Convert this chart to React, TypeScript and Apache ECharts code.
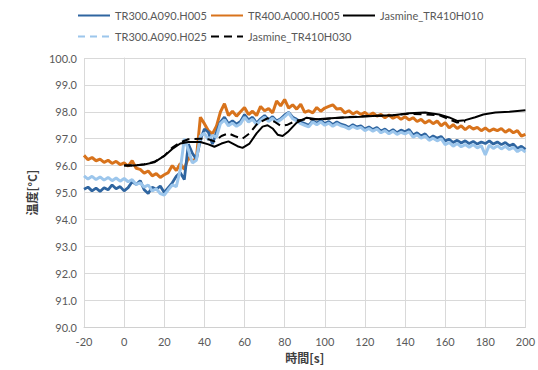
import React, { useEffect, useRef } from "react";
import * as echarts from "echarts";

const T_START = -20;
const T_STEP = 2;

const tr300h005 = [
  95.12, 95.2, 95.06, 95.16, 95.04, 95.18, 95.1, 95.28, 95.14, 95.22,
  95.06, 95.18, 95.4, 95.3, 95.44, 95.1, 94.96, 95.2, 95.12, 95.24,
  95.0, 95.18, 95.36, 95.6, 95.74, 95.48, 96.8, 96.46, 96.24, 96.96,
  97.36, 97.24, 96.8, 97.24, 97.62, 97.8, 97.56, 97.66, 97.54, 97.64,
  97.9, 97.7, 97.8, 97.58, 97.74, 97.86, 97.7, 97.82, 97.66, 97.74,
  97.88, 97.98, 97.8, 97.72, 97.62, 97.56, 97.5, 97.66, 97.58, 97.68,
  97.56, 97.64, 97.52, 97.62, 97.54, 97.5, 97.42, 97.52, 97.44, 97.48,
  97.36, 97.44, 97.34, 97.42, 97.28, 97.36, 97.24, 97.34, 97.22, 97.32,
  97.26, 97.34, 97.14, 97.22, 97.1, 97.18, 97.0, 97.1, 97.02, 97.08,
  96.92, 96.98, 96.86, 96.94, 96.84, 96.92, 96.82, 96.9, 96.8, 96.88,
  96.82, 96.92, 96.8, 96.88, 96.78, 96.86, 96.74, 96.8, 96.64, 96.72,
  96.6,
];

const tr400h005 = [
  96.38, 96.22, 96.3, 96.18, 96.24, 96.12, 96.2, 96.08, 96.16, 96.04,
  96.1, 95.98, 96.18, 95.9, 95.86, 95.72, 95.8, 95.62, 95.7, 95.56,
  95.66, 95.74, 96.0, 95.82, 96.08, 95.86, 96.3, 96.18, 96.26, 97.8,
  97.56, 97.3, 97.18, 97.46, 98.0, 98.3, 97.86, 98.02, 97.84, 98.0,
  98.16, 97.9, 98.02, 97.86, 98.2, 98.04, 98.12, 97.96, 98.4, 98.22,
  98.46, 98.14, 98.26, 98.1, 98.28, 97.98, 98.04, 97.96, 98.16, 98.02,
  98.14, 98.2, 98.26, 98.1, 98.12, 97.96, 98.04, 97.92, 98.0, 97.9,
  97.98, 97.86, 97.96, 97.84, 97.9, 97.78, 97.88, 97.76, 97.84, 97.72,
  97.82, 97.7, 97.78, 97.64, 97.72, 97.58, 97.68, 97.56, 97.66, 97.48,
  97.6, 97.4, 97.52, 97.38, 97.48, 97.34, 97.46, 97.36, 97.42, 97.3,
  97.4, 97.28, 97.36, 97.3, 97.38, 97.24, 97.34, 97.22, 97.3, 97.1,
  97.16,
];

const tr300h025 = [
  95.62, 95.5, 95.6, 95.48, 95.58, 95.46, 95.56, 95.44, 95.54, 95.42,
  95.52, 95.4, 95.48, 95.3, 95.36, 95.2, 95.28, 95.06, 95.14, 94.96,
  94.9, 95.1, 95.28, 95.22, 95.86, 97.0, 96.6, 96.1, 96.2, 97.1,
  97.2, 96.96, 97.12, 97.06, 97.56, 97.7, 97.48, 97.58, 97.46, 97.56,
  97.8, 97.62, 97.72, 97.52, 97.68, 97.8, 97.64, 97.76, 97.6, 97.7,
  97.82, 97.96, 97.74, 97.66, 97.56, 97.5, 97.44, 97.62, 97.52, 97.62,
  97.5, 97.58, 97.46, 97.56, 97.48, 97.44, 97.36, 97.46, 97.38, 97.42,
  97.3, 97.38, 97.28, 97.36, 97.22, 97.3, 97.18, 97.28, 97.16, 97.24,
  97.18, 97.26, 97.06, 97.14, 97.02, 97.1, 96.94, 97.02, 96.92, 97.0,
  96.78, 96.86, 96.72, 96.82, 96.7, 96.78, 96.68, 96.78, 96.66, 96.74,
  96.4, 96.76, 96.64, 96.74, 96.62, 96.72, 96.6, 96.68, 96.52, 96.62,
  96.5,
];

const jasH010Time = [
  0, 5, 10, 15, 20, 24, 28, 32, 38, 42, 45, 48.5, 52, 56.5, 59, 62.5, 66,
  69, 71.5, 74, 76.5, 79, 82, 86, 91, 96, 101, 109, 118, 126, 134, 142,
  150, 157, 162, 166, 170, 175, 179, 185, 192, 200,
];
const jasH010 = [
  96.0, 96.0, 96.04, 96.12, 96.36, 96.62, 96.82, 96.88, 96.88, 96.79,
  96.7, 96.82, 96.9, 96.72, 96.66, 96.82, 97.2, 97.45, 97.5, 97.38,
  97.15, 97.1, 97.28, 97.6, 97.78, 97.72, 97.75, 97.79, 97.82, 97.85,
  97.87, 97.95, 97.97, 97.9, 97.79, 97.66, 97.69, 97.8, 97.9, 97.97,
  98.0, 98.06,
];

const jasH030Time = [
  0, 5, 10, 15, 20, 24, 28, 32, 38, 42, 45, 48.5, 52, 55, 59, 62.5, 66.5,
  71.5, 75, 78, 81.5, 86, 91, 98, 109, 118, 126, 134, 142, 150, 157, 162,
  166, 170,
];
const jasH030 = [
  96.0, 96.0, 96.05, 96.14, 96.36, 96.67, 96.86, 96.98, 97.0, 96.98,
  96.9, 97.1, 97.2, 97.1, 97.0, 97.2, 97.57, 97.76, 97.63, 97.48,
  97.52, 97.68, 97.72, 97.72, 97.79, 97.83, 97.85, 97.87, 97.93, 97.9,
  97.87, 97.72, 97.6, 97.64,
];

const xTicks = { min: -20, max: 200, interval: 20 };
const yTicks = { min: 90, max: 100, interval: 1 };

const NAMES = [
  "TR300.A090.H005",
  "TR400.A000.H005",
  "Jasmine_TR410H010",
  "TR300.A090.H025",
  "Jasmine_TR410H030",
];

const COLORS = ["#2f65a0", "#d8731c", "#000000", "#9cc6ec", "#000000"];

function regular(values: number[]) {
  return values.map((v, i) => [T_START + i * T_STEP, v]);
}
function paired(times: number[], values: number[]) {
  return times.map((t, i) => [t, values[i]]);
}

export default function App() {
  const ref = useRef<HTMLDivElement>(null);
  useEffect(() => {
    if (!ref.current) return;
    const chart = echarts.init(ref.current, undefined, { renderer: "svg" });
    const font = "Lato, 'Open Sans', sans-serif";
    const txt = { color: "#595959", fontSize: 11, fontFamily: font };
    const legendBase = {
      itemWidth: 32,
      itemHeight: 10,
      itemGap: 10,
      itemStyle: { opacity: 0 },
      textStyle: { ...txt, fontSize: 11 },
    };
    const legendSlots = [
      { left: 72, top: 5, item: NAMES[0] as any },
      { left: 205, top: 5, item: NAMES[1] as any },
      { left: 337, top: 5, item: NAMES[2] as any },
      { left: 72, top: 26, item: { name: NAMES[3], lineStyle: { type: [7, 5] } } as any },
      { left: 205, top: 26, item: NAMES[4] as any },
    ];
    chart.setOption({
      animation: false,
      backgroundColor: "#ffffff",
      legend: legendSlots.map((s) => ({
        ...legendBase,
        left: s.left,
        top: s.top,
        data: [s.item],
      })),
      grid: { left: 84, right: 9, top: 58, bottom: 43 },
      xAxis: {
        type: "value",
        ...xTicks,
        name: "時間[s]",
        nameLocation: "middle",
        nameGap: 24,
        nameTextStyle: {
          color: "#404040",
          fontSize: 12,
          fontWeight: "bold",
          fontFamily: "'Noto Sans CJK JP', sans-serif",
        },
        axisLine: { show: true, lineStyle: { color: "#d0d0d0" } },
        axisTick: { show: false },
        axisLabel: { ...txt, margin: 9 },
        splitLine: { show: true, lineStyle: { color: "#d9d9d9" } },
      },
      yAxis: {
        type: "value",
        ...yTicks,
        name: "温度[°C]",
        nameLocation: "middle",
        nameGap: 46,
        nameRotate: 90,
        nameTextStyle: {
          color: "#404040",
          fontSize: 12,
          fontWeight: "bold",
          fontFamily: "'Noto Sans CJK JP', sans-serif",
        },
        axisLine: { show: true, lineStyle: { color: "#d9d9d9" } },
        axisTick: { show: false },
        axisLabel: {
          ...txt,
          margin: 7,
          formatter: (v: number) => v.toFixed(1),
        },
        splitLine: { show: true, lineStyle: { color: "#d9d9d9" } },
      },
      series: [
        {
          name: NAMES[0],
          type: "line",
          symbol: "none",
          data: regular(tr300h005),
          lineStyle: { color: COLORS[0], width: 2.8 },
          itemStyle: { color: COLORS[0] },
          z: 3,
        },
        {
          name: NAMES[1],
          type: "line",
          symbol: "none",
          data: regular(tr400h005),
          lineStyle: { color: COLORS[1], width: 3 },
          itemStyle: { color: COLORS[1] },
          z: 2,
        },
        {
          name: NAMES[2],
          type: "line",
          symbol: "none",
          data: paired(jasH010Time, jasH010),
          lineStyle: { color: COLORS[2], width: 2 },
          itemStyle: { color: COLORS[2] },
          z: 5,
        },
        {
          name: NAMES[3],
          type: "line",
          symbol: "none",
          data: regular(tr300h025),
          lineStyle: { color: COLORS[3], width: 3 },
          itemStyle: { color: COLORS[3] },
          z: 4,
        },
        {
          name: NAMES[4],
          type: "line",
          symbol: "none",
          data: paired(jasH030Time, jasH030),
          lineStyle: { color: COLORS[4], width: 2, type: [8, 5] },
          itemStyle: { color: COLORS[4] },
          z: 6,
        },
      ],
    });
    return () => chart.dispose();
  }, []);
  return <div ref={ref} style={{ width: 538, height: 370, position: "absolute", left: 0, top: 0 }} />;
}
